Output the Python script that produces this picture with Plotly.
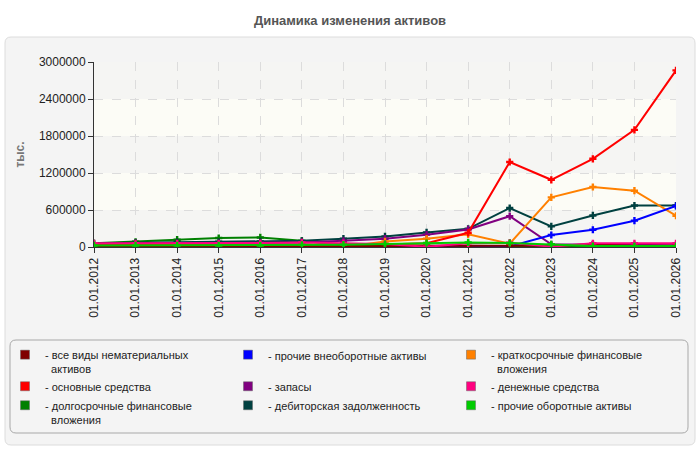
import plotly.graph_objects as go

# Данные (тыс.)
dates = ["01.01.%d" % y for y in range(2012, 2027)]

nma = [10000, 10000, 10000, 10000, 10000, 10000, 10000, 10000, 10000, 15000, 20000, 20000, 40000, 20000, 20000]
osn_sredstva = [30000, 30000, 30000, 30000, 30000, 30000, 35000, 40000, 60000, 230000, 1378000, 1090000, 1430000, 1900000, 2864000]
dolg_fin = [60000, 85000, 118000, 145000, 155000, 100000, 30000, 25000, 20000, 15000, 10000, 5000, 5000, 5000, 5000]
proch_vneob = [0, 0, 0, 0, 0, 0, 0, 0, 0, 0, 10000, 195000, 280000, 427000, 665000]
zapasy = [40000, 45000, 50000, 55000, 60000, 75000, 100000, 135000, 200000, 285000, 500000, 45000, 40000, 30000, 30000]
debitor = [60000, 70000, 80000, 85000, 90000, 100000, 135000, 172000, 237000, 295000, 632000, 334000, 512000, 672000, 672000]
kratk_fin = [0, 0, 0, 0, 0, 0, 0, 90000, 135000, 205000, 55000, 805000, 973000, 913000, 507000]
den_sredstva = [60000, 60000, 60000, 60000, 65000, 75000, 65000, 50000, 3000, 60000, 70000, 5000, 60000, 60000, 60000]
proch_obor = [25000, 25000, 25000, 25000, 25000, 35000, 37000, 48000, 65000, 75000, 65000, 45000, 15000, 15000, 15000]

# порядок легенды по строкам (3 колонки)
series = [
    ("- все виды нематериальных<br>  активов", nma, "#800000"),
    ("- прочие внеоборотные активы", proch_vneob, "#0000FF"),
    ("- краткосрочные финансовые<br>  вложения", kratk_fin, "#FF8000"),
    ("- основные средства", osn_sredstva, "#FF0000"),
    ("- запасы", zapasy, "#800080"),
    ("- денежные средства", den_sredstva, "#FF0080"),
    ("- долгосрочные финансовые<br>  вложения", dolg_fin, "#008000"),
    ("- дебиторская задолженность", debitor, "#004040"),
    ("- прочие оборотные активы", proch_obor, "#00CC00"),
]
# порядок отрисовки линий
draw_order = [6, 7, 4, 2, 1, 3, 0, 5, 8]

L, T, W, H = 94, 62, 582, 185


def px(x):
    return (x - L) / W


def py(y):
    return (T + H - y) / H


def rrect(x0, y0, x1, y1, r=6):
    a, b, c, d = px(x0), px(x1), py(y0), py(y1)
    rx, ry = r / W, r / H
    return (f"M{a+rx},{c} L{b-rx},{c} Q{b},{c} {b},{c-ry} L{b},{d+ry} Q{b},{d} {b-rx},{d} "
            f"L{a+rx},{d} Q{a},{d} {a},{d+ry} L{a},{c-ry} Q{a},{c} {a+rx},{c} Z")


fig = go.Figure()

for i in draw_order:
    name, vals, color = series[i]
    fig.add_trace(go.Scatter(
        x=dates, y=vals, mode="lines+markers", name=name, showlegend=False,
        line=dict(color=color, width=2),
        marker=dict(symbol="cross", size=6, color=color),
    ))

for name, vals, color in series:
    fig.add_trace(go.Scatter(
        x=[None], y=[None], mode="markers", name=name,
        marker=dict(symbol="square", size=9, color=color, line=dict(color="#666", width=0.5)),
    ))

shapes = [
    dict(type="path", path=rrect(5, 37, 695, 445), xref="paper", yref="paper",
         fillcolor="#f4f4f4", line=dict(color="#dcdcdc", width=1), layer="below"),
    dict(type="path", path=rrect(10, 340, 688, 433), xref="paper", yref="paper",
         fillcolor="#f4f4f4", line=dict(color="#a8a8a8", width=1), layer="below"),
]
band_colors = ["#f5f5f3", "#fcfcf6"]
for k in range(5):
    shapes.append(dict(type="rect", xref="paper", yref="y", x0=0, x1=1,
                       y0=k * 600000, y1=(k + 1) * 600000,
                       fillcolor=band_colors[k % 2], line=dict(width=0), layer="below"))

fig.update_layout(
    width=700, height=450,
    margin=dict(l=L, r=700 - L - W, t=T, b=450 - T - H, autoexpand=False),
    paper_bgcolor="white", plot_bgcolor="#fafaf6",
    font=dict(family="Liberation Sans, Arial, sans-serif", size=12, color="#222"),
    title=dict(text="<b>Динамика изменения активов</b>", x=0.5, xref="container",
               y=1 - 20 / 450, yref="container", xanchor="center", yanchor="middle",
               font=dict(size=13, color="#555")),
    shapes=shapes,
    showlegend=True,
    legend=dict(orientation="h", x=px(5), y=py(341), xanchor="left", yanchor="top",
                bgcolor="rgba(0,0,0,0)", entrywidth=178, entrywidthmode="pixels",
                itemwidth=30, tracegroupgap=0, valign="top",
                font=dict(family="Liberation Sans, Arial", size=11, color="#222")),
)

fig.update_xaxes(type="category", range=[0, len(dates) - 1], tickangle=-90,
                 showgrid=True, gridcolor="#dcdcdc", griddash="dash", gridwidth=1,
                 showline=True, linecolor="#333", ticks="outside", ticklen=5, tickcolor="#333",
                 tickfont=dict(size=12, color="#222"))
fig.update_yaxes(range=[0, 3000000], dtick=600000, tickformat="d",
                 showgrid=True, gridcolor="#dcdcdc", griddash="dash", gridwidth=1,
                 showline=True, linecolor="#333", ticks="outside", ticklen=5, tickcolor="#333",
                 zeroline=False, tickfont=dict(size=12, color="#222"),
                 title=dict(text="<b>тыс.</b>", font=dict(size=12, color="#777"), standoff=11))

# убрать отступ body, чтобы картинка начиналась с (0,0)
fig.write_html("out.html", config={"displayModeBar": False},
               post_script="document.body.style.margin='0';")
